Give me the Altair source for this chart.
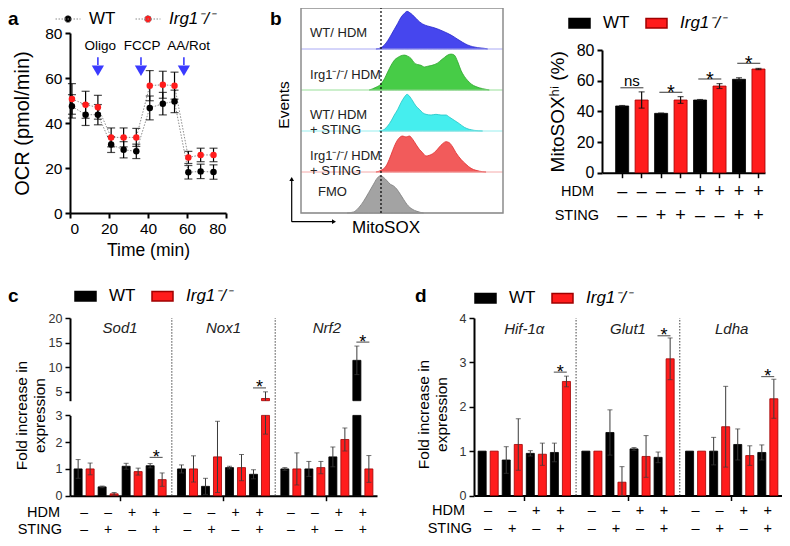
import altair as alt
import pandas as pd

FONT = "Liberation Sans"
WT = "WT"
KO = "Irg1⁻/⁻"
RED = "#ff1c1c"
RED_EDGE = "#a00000"
BLUE = "#3a3aff"
GENO_SCALE = alt.Scale(domain=[WT, KO], range=["#000000", RED])
EDGE_SCALE = alt.Scale(domain=[WT, KO], range=["#000000", RED_EDGE])
ITALIC_KO = {"expr": "datum.value == 'WT' ? 'normal' : 'italic'"}
RECT = "M-1,-0.45H1V0.45H-1Z"
DOT_LINE = "M-1,0H1M0.28,0A0.28,0.28 0 1 1 -0.28,0A0.28,0.28 0 1 1 0.28,0Z"
W, H = 774, 530

# ---------------- panel a : OCR time course ----------------
a_time = [1.0, 8.0, 14.3, 21.1, 27.5, 34.0, 40.9, 47.6, 53.6, 60.7, 67.0, 73.6]
a_wt = [47.4, 43.7, 43.7, 30.4, 28.1, 27.4, 46.7, 48.6, 49.6, 18.1, 18.5, 18.2]
a_wt_err = [5.2, 4.8, 4.5, 3.5, 3.6, 3.2, 5.3, 5.0, 5.0, 3.0, 3.2, 3.2]
a_ko = [50.7, 48.1, 47.0, 33.6, 33.6, 33.6, 56.6, 57.0, 56.6, 24.7, 25.8, 25.8]
a_ko_err = [6.8, 6.0, 5.3, 4.2, 4.2, 4.0, 6.7, 6.0, 6.0, 2.7, 3.0, 3.0]
inj_names = ["Oligo", "FCCP", "AA/Rot"]
inj_time = [14.3, 36.4, 58.4]
inj_label_time = [15.5, 37.0, 60.8]

# ---------------- panel b : histograms ----------------
hist_labels = ["WT/ HDM", "Irg1⁻/⁻/ HDM", "WT/ HDM\n+ STING", "Irg1⁻/⁻/ HDM\n+ STING", "FMO"]
hist_x_wt = [37.1, 39.6, 41.3, 42.9, 44.6, 46.2, 47.9, 49.5, 51.2, 52.5, 53.6, 55.3, 56.9, 58.6,
             60.2, 62.7, 65.2, 67.7, 70.1, 72.6, 75.1, 77.6, 80.0, 82.5, 85.0, 87.5, 90.8, 92.4]
hist_h_wt = [0, 3.3, 9.8, 20.3, 34.1, 48.0, 62.6, 77.2, 87.0, 91.9, 89.4, 82.9, 74.8, 66.7,
             61.0, 56.1, 52.8, 48.8, 43.9, 38.2, 31.7, 23.6, 16.3, 9.8, 5.7, 3.3, 1.6, 0]
hist_x_ko = [33.8, 37.1, 39.6, 41.3, 42.9, 44.6, 46.2, 47.9, 49.5, 51.2, 52.8, 54.5, 56.1, 57.8,
             59.4, 61.1, 62.7, 64.4, 66.0, 67.7, 69.3, 71.0, 72.6, 74.3, 75.9, 77.6, 79.2, 80.9,
             82.5, 84.2, 86.6, 89.9, 93.2]
hist_h_ko = [0, 6.6, 14.9, 27.3, 43.8, 60.3, 72.7, 79.3, 83.5, 85.1, 82.6, 76.9, 66.1, 62.0,
             60.3, 56.2, 57.9, 59.5, 62.0, 66.1, 72.7, 79.3, 85.1, 87.6, 85.1, 68.6, 47.9, 33.1,
             23.1, 14.9, 8.3, 3.3, 0]
hist_x_wt_st = [38.8, 41.3, 42.9, 44.6, 46.2, 47.9, 49.5, 51.2, 52.5, 53.6, 55.3, 56.9, 58.6,
                60.2, 61.9, 64.4, 66.8, 69.3, 71.8, 73.4, 75.9, 78.4, 80.9, 83.3, 85.8, 89.9]
hist_h_wt_st = [0, 4.1, 12.2, 24.4, 39.0, 52.8, 69.1, 82.9, 89.4, 85.4, 73.2, 61.0, 52.8,
                44.7, 40.7, 39.0, 40.7, 39.0, 39.0, 34.1, 26.0, 17.9, 8.9, 4.1, 1.6, 0]
hist_x_ko_st = [37.1, 39.6, 42.1, 43.7, 45.4, 47.0, 48.7, 50.3, 52.0, 53.6, 55.3, 56.9, 58.6,
                60.2, 61.9, 63.5, 65.2, 66.8, 68.5, 70.1, 71.8, 73.4, 75.1, 76.7, 79.2, 81.7,
                84.2, 86.6, 89.9, 91.6]
hist_h_ko_st = [0, 4.1, 14.6, 30.9, 52.8, 71.5, 83.7, 87.8, 85.4, 87.8, 79.7, 67.5, 55.3,
                47.2, 39.0, 40.7, 44.7, 51.2, 61.0, 69.1, 74.0, 71.5, 61.0, 47.2, 30.9, 18.7,
                8.9, 4.1, 0.8, 0]
hist_x_fmo = [22.8, 26.0, 28.5, 31.0, 33.5, 35.9, 37.6, 39.3, 40.9, 42.6, 44.2, 45.8, 47.5,
              49.2, 50.8, 52.5, 54.9, 57.4, 60.7]
hist_h_fmo = [0, 2.5, 12.4, 28.9, 49.6, 70.2, 84.3, 90.9, 86.8, 78.5, 70.2, 66.1, 57.9,
              45.5, 33.1, 20.7, 9.9, 4.1, 0]
hist_label_x = [4.5, 4.5, 4.5, 4.5, 8.4]
hist_label_h = [39, 37, 40, 39, 52]
gate_x = 39.6

# ---------------- panel b : MitoSOX-hi bars ----------------
bb_bars = ["b1", "b2", "b3", "b4", "b5", "b6", "b7", "b8"]
bb_geno = [WT, KO, WT, KO, WT, KO, WT, KO]
bb_val = [43.5, 47.4, 38.7, 47.4, 47.4, 56.5, 60.9, 67.6]
bb_err = [0.3, 5.3, 0.2, 2.2, 0.3, 1.6, 1.0, 0.4]
bb_hdm = ["–", "–", "–", "–", "+", "+", "+", "+"]
bb_sting = ["–", "–", "+", "+", "–", "–", "+", "+"]
bb_sig_bar = ["b1", "b3", "b5", "b7"]
bb_sig_y = [55.4, 52.4, 61.1, 71.3]
bb_sig_txt = ["ns", "*", "*", "*"]

# ---------------- panels c, d : qPCR ----------------
CONDS = ["c1", "c2", "c3", "c4"]
SUBS = [f"{c}_{g}" for c in CONDS for g in ["WT", "KO"]]
HDM_SIGNS = ["–", "–", "+", "+"]
STING_SIGNS = ["–", "+", "–", "+"]

c_genes = ["Sod1", "Nox1", "Nrf2"]
c_vals = {
    "Sod1": [1.0, 1.0, 0.33, 0.07, 1.1, 0.9, 1.12, 0.6],
    "Nox1": [1.0, 1.0, 0.35, 1.45, 1.05, 1.05, 0.8, 3.65],
    "Nrf2": [1.0, 1.0, 1.0, 1.05, 1.45, 2.1, 11.4, 1.0],
}
c_errs = {
    "Sod1": [0.35, 0.22, 0.03, 0.05, 0.11, 0.13, 0.08, 0.25],
    "Nox1": [0.15, 0.49, 0.3, 1.33, 0.05, 0.49, 0.17, 1.35],
    "Nrf2": [0.05, 0.6, 0.28, 0.23, 0.37, 0.43, 2.9, 0.5],
}
c_sig_gene = ["Sod1", "Nox1", "Nrf2"]
c_sig_y = [1.43, 5.8, 15.1]

d_genes = ["Hif-1α", "Glut1", "Ldha"]
d_vals = {
    "Hif-1α": [1.0, 1.0, 0.8, 1.15, 0.95, 0.93, 0.97, 2.57],
    "Glut1": [1.0, 1.0, 1.42, 0.3, 1.05, 0.88, 0.86, 3.08],
    "Ldha": [1.0, 1.0, 1.0, 1.55, 1.15, 0.9, 0.97, 2.18],
}
d_errs = {
    "Hif-1α": [0, 0, 0.3, 0.58, 0.06, 0.25, 0.21, 0.12],
    "Glut1": [0, 0, 0.51, 0.35, 0.03, 0.47, 0.12, 0.47],
    "Ldha": [0, 0, 0.31, 0.91, 0.35, 0.22, 0.17, 0.44],
}
d_sig_gene = ["Hif-1α", "Glut1", "Ldha"]
d_sig_y = [2.78, 3.6, 2.68]


def ax(**kw):
    base = dict(grid=False, domainColor="black", domainWidth=2, tickColor="black", tickWidth=2,
                tickSize=5, labelColor="black", labelFont=FONT, titleFont=FONT, titleColor="black",
                titleFontWeight="normal", labelPadding=3)
    base.update(kw)
    return alt.Axis(**base)


def one(**cols):
    return pd.DataFrame({k: [v] for k, v in cols.items()})


def letter(ch, x, y):
    return alt.Chart(one(t=ch)).mark_text(fontSize=19, fontWeight="bold", align="left",
                                          baseline="alphabetic", font=FONT).encode(
        x=alt.value(x), y=alt.value(y), text="t:N")


def label(txt, x, y, size, align="right", **kw):
    return alt.Chart(one(t=txt)).mark_text(fontSize=size, align=align, baseline="middle",
                                           font=FONT, **kw).encode(
        x=alt.value(x), y=alt.value(y), text="t:N")


def rect_legend(x, y):
    return alt.Legend(title=None, orient="none", legendX=x, legendY=y, direction="horizontal",
                      symbolType=RECT, symbolSize=441, labelFontSize=17, labelFont=FONT,
                      labelOffset=12, columnPadding=13, labelFontStyle=ITALIC_KO, padding=0,
                      symbolOpacity=1)


# ====================== panel a ======================
rows = []
for g, vals, errs in [(WT, a_wt, a_wt_err), (KO, a_ko, a_ko_err)]:
    for t, v, e in zip(a_time, vals, errs):
        rows.append(dict(time=t, geno=g, val=v, lo=v - e, hi=v + e))
df_a = pd.DataFrame(rows)
df_inj = pd.DataFrame({"name": inj_names, "t": inj_time, "lt": inj_label_time})

xa_scale = alt.Scale(domain=[0, 80], nice=False, range=[62, 218])
ya_scale = alt.Scale(domain=[0, 80], nice=False, range=[205, 25])
xa_axis = ax(values=[0, 20, 40, 60, 80], title="Time (min)", labelFontSize=15.5,
             titleFontSize=17.5, titlePadding=5, orient="bottom", offset=205 - H)
ya_axis = ax(values=[0, 20, 40, 60, 80], title="OCR (pmol/min)", labelFontSize=15.5,
             titleFontSize=20, titlePadding=12, orient="left", offset=-62)


def XA(f):
    return alt.X(f, scale=xa_scale, axis=xa_axis)


def YA(f):
    return alt.Y(f, scale=ya_scale, axis=ya_axis)


legend_a = alt.Legend(title=None, orient="none", legendX=47, legendY=-2, direction="horizontal",
                      symbolType=DOT_LINE, symbolSize=625, symbolStrokeColor="#8c8c8c",
                      symbolStrokeWidth=1, symbolDash=[1.5, 1.5], labelFontSize=17,
                      labelFont=FONT, labelOffset=8, columnPadding=17,
                      labelFontStyle=ITALIC_KO, padding=0, symbolOpacity=1)

base_a = alt.Chart(df_a)
pa = alt.layer(
    base_a.mark_line(color="#8c8c8c", strokeDash=[1.5, 1.5], strokeWidth=1).encode(
        x=XA("time:Q"), y=YA("val:Q"), detail="geno:N"),
    base_a.mark_rule(color="black", strokeWidth=1.2).encode(
        x=XA("time:Q"), y=YA("lo:Q"), y2="hi:Q"),
    base_a.transform_fold(["lo", "hi"], as_=["k", "v"]).mark_tick(
        orient="horizontal", size=8, thickness=1.2, color="black").encode(
        x=XA("time:Q"), y=YA("v:Q")),
    base_a.mark_circle(size=42, opacity=1).encode(
        x=XA("time:Q"), y=YA("val:Q"),
        color=alt.Color("geno:N", scale=GENO_SCALE, legend=legend_a)),
    alt.Chart(df_inj).mark_rule(color=BLUE, strokeWidth=1.6).encode(
        x=XA("t:Q"), y=alt.datum(69.2), y2=alt.datum(65.8)),
    alt.Chart(df_inj).mark_point(shape="triangle-down", filled=True, size=150, color=BLUE,
                                 opacity=1).encode(x=XA("t:Q"), y=alt.datum(63.2)),
    alt.Chart(df_inj).mark_text(fontSize=13.5, font=FONT).encode(
        x=XA("lt:Q"), y=alt.datum(74.3), text="name:N"),
)

# ====================== panel b : histograms ======================
hist_xs = [hist_x_wt, hist_x_ko, hist_x_wt_st, hist_x_ko_st, hist_x_fmo]
hist_hs = [hist_h_wt, hist_h_ko, hist_h_wt_st, hist_h_ko_st, hist_h_fmo]
hist_fill = ["#4646ee", "#47cc47", "#45eeee", "#f25b5b", "#a3a3a3"]
hist_edge = ["#2a2acc", "#2ea62e", "#22c4c4", "#e03030", "#7a7a7a"]
hist_base = ["#aaaaf5", "#99e099", "#99eeee", "#f5aaaa", "#cccccc"]
ROW = 41
xh_scale = alt.Scale(domain=[0, 100], nice=False, range=[293, 495])


def XH(f):
    return alt.X(f, scale=xh_scale, axis=None)


def hist_row(i):
    ysc = alt.Scale(domain=[0, 100], nice=False, range=[ROW * (i + 1), ROW * i])
    df = pd.DataFrame({"x": hist_xs[i], "h": hist_hs[i]})
    area = alt.Chart(df).mark_area(fill=hist_fill[i], stroke=hist_edge[i], strokeWidth=0.8,
                                   fillOpacity=1, interpolate="monotone").encode(
        x=XH("x:Q"), y=alt.Y("h:Q", scale=ysc, axis=None))
    base = alt.Chart(one(x0=0, x1=100, b=0)).mark_rule(color=hist_base[i], strokeWidth=1).encode(
        x=XH("x0:Q"), x2="x1:Q", y=alt.Y("b:Q", scale=ysc, axis=None))
    txt = alt.Chart(one(lbl=hist_labels[i], lx=hist_label_x[i], ly=hist_label_h[i])).mark_text(
        align="left", baseline="middle", fontSize=13, font=FONT, lineBreak="\n",
        color="#222222").encode(
        x=XH("lx:Q"), y=alt.Y("ly:Q", scale=ysc, axis=None), text="lbl:N")
    return alt.layer(area, base, txt)


box_y = alt.Scale(domain=[0, 1], nice=False, range=[205, 0])
hist_frame = alt.layer(
    alt.Chart(one(x0=0, x1=100, y0=0, y1=1)).mark_rect(
        fillOpacity=0, stroke="#8c8c8c", strokeWidth=1.5).encode(
        x=XH("x0:Q"), x2="x1:Q", y=alt.Y("y0:Q", scale=box_y, axis=None), y2="y1:Q"),
    alt.Chart(one(g=gate_x, y0=0, y1=1)).mark_rule(
        strokeDash=[2, 2], color="black", strokeWidth=1.2).encode(
        x=XH("g:Q"), y=alt.Y("y0:Q", scale=box_y, axis=None), y2="y1:Q"),
)

pb_hist = alt.layer(
    *[hist_row(i) for i in range(5)], hist_frame,
).resolve_scale(y="independent")

hist_deco = alt.layer(
    alt.Chart(one(k=0)).mark_rule(color="black", strokeWidth=1.2).encode(
        x=alt.value(283.7), y=alt.value(213.7), y2=alt.value(172)),
    alt.Chart(one(k=0)).mark_rule(color="black", strokeWidth=1.2).encode(
        x=alt.value(283.7), x2=alt.value(325), y=alt.value(213.7)),
    alt.Chart(one(k=0)).mark_point(shape="triangle-up", filled=True, size=22, color="black",
                                   opacity=1).encode(x=alt.value(283.7), y=alt.value(171)),
    alt.Chart(one(k=0)).mark_point(shape="triangle-right", filled=True, size=22,
                                   color="black", opacity=1).encode(
        x=alt.value(326), y=alt.value(213.7)),
    label("Events", 276, 97, 15.5, align="center", angle=270),
    label("MitoSOX", 378, 220, 17, align="center"),
)

# ====================== panel b : bars ======================
df_bb = pd.DataFrame({"bar": bb_bars, "geno": bb_geno, "val": bb_val, "err": bb_err,
                      "hdm": bb_hdm, "sting": bb_sting})
df_bb["lo"] = df_bb["val"] - df_bb["err"]
df_bb["hi"] = df_bb["val"] + df_bb["err"]
df_bb_sig = pd.DataFrame({"bar": bb_sig_bar, "y": bb_sig_y, "txt": bb_sig_txt})

xb_scale = alt.Scale(domain=bb_bars, range=[594, 757], paddingInner=0.33, paddingOuter=0.35,
                     align=1)
xb_axis = ax(labels=False, title=None, tickWidth=1.5, orient="bottom", offset=164.7 - H)
yb_scale = alt.Scale(domain=[0, 80], nice=False, range=[164.7, 42])
yb_axis = ax(values=[0, 20, 40, 60, 80], title="MitoSOXʰⁱ (%)", labelFontSize=16,
             titleFontSize=19, titlePadding=9, orient="left", offset=-594)


def XB():
    return alt.X("bar:N", sort=bb_bars, scale=xb_scale, axis=xb_axis)


def YB(f):
    return alt.Y(f, scale=yb_scale, axis=yb_axis, stack=None)


bb_step = 163 / (8 - 0.33 + 0.7)
pb_bar = alt.layer(
    alt.Chart(df_bb).mark_bar(strokeWidth=0.8).encode(
        x=XB(), y=YB("val:Q"),
        color=alt.Color("geno:N", scale=GENO_SCALE, legend=rect_legend(560, 3.5)),
        stroke=alt.Stroke("geno:N", scale=EDGE_SCALE, legend=None)),
    alt.Chart(df_bb).mark_rule(color="#111111", strokeWidth=1.2).encode(
        x=XB(), y=YB("lo:Q"), y2="hi:Q"),
    alt.Chart(df_bb).transform_fold(["lo", "hi"], as_=["k", "v"]).mark_tick(
        orient="horizontal", size=6, thickness=1.2, color="#111111").encode(x=XB(), y=YB("v:Q")),
    alt.Chart(df_bb_sig).mark_tick(orient="horizontal", size=23, thickness=1.3,
                                   color="#222222", xOffset=bb_step / 2).encode(
        x=XB(), y=YB("y:Q")),
    alt.Chart(df_bb_sig).transform_filter("datum.txt == 'ns'").mark_text(
        fontSize=15, dx=bb_step / 2, dy=-2, baseline="alphabetic", font=FONT).encode(
        x=XB(), y=YB("y:Q"), text="txt:N"),
    alt.Chart(df_bb_sig).transform_filter("datum.txt != 'ns'").mark_text(
        fontSize=20, dx=bb_step / 2, dy=7, baseline="alphabetic", font=FONT).encode(
        x=XB(), y=YB("y:Q"), text="txt:N"),
    alt.Chart(df_bb).mark_text(fontSize=18, font=FONT).encode(
        x=XB(), y=alt.value(184), text="hdm:N"),
    alt.Chart(df_bb).mark_text(fontSize=18, font=FONT).encode(
        x=XB(), y=alt.value(208), text="sting:N"),
)


# ====================== panels c and d helpers ======================
def expr_frame(genes, vals, errs):
    out = []
    for g in genes:
        for k, (v, e) in enumerate(zip(vals[g], errs[g])):
            gt = "WT" if k % 2 == 0 else "KO"
            out.append(dict(gene=g, sub=f"{CONDS[k // 2]}_{gt}", geno=WT if gt == "WT" else KO,
                            val=v, err=e, lo=max(v - e, 0), hi=v + e))
    return pd.DataFrame(out)


def sign_frame(genes):
    out = []
    for g in genes:
        for k, c in enumerate(CONDS):
            out.append(dict(gene=g, sub=f"{c}_WT", hdm=HDM_SIGNS[k], sting=STING_SIGNS[k]))
    return pd.DataFrame(out)


def XOFF():
    return alt.XOffset("sub:N", sort=SUBS,
                       scale=alt.Scale(domain=SUBS, paddingInner=0.33, paddingOuter=0.17))


ERR_C = "#3a3a3a"
PAIR_DX = 6.0      # half a bar step: centre of a WT/KO pair
SIG_DX = 36.0      # from the gene centre to the centre of the last (HDM+STING) pair

# ====================== panel c ======================
df_c = expr_frame(c_genes, c_vals, c_errs)
df_c_sign = sign_frame(c_genes)
df_c_sig = pd.DataFrame({"gene": c_sig_gene, "y": c_sig_y, "txt": ["*"] * 3})
df_c_lbl = pd.DataFrame({"gene": c_genes, "y": [18.0] * 3})

c_xscale = alt.Scale(domain=c_genes, range=[62, 369], paddingInner=0.07, paddingOuter=0.02)
c_xaxis = ax(labels=False, title=None, tickWidth=1.5, orient="bottom", offset=487.7 - H)


def XC(**kw):
    return alt.X("gene:N", sort=c_genes, scale=c_xscale, axis=c_xaxis, **kw)


c_lo_scale = alt.Scale(domain=[0, 3], nice=False, range=[487.7, 407.4], clamp=True)
c_lo_axis = ax(values=[0, 1, 2, 3], title=["Fold increase in", "expression"], orient="left",
               offset=-62, labelFontSize=12.5, labelColor="#333333", titleFontSize=15.5,
               titleLineHeight=18, titlePadding=8, titleY=407, tickWidth=1.5)
c_hi_scale = alt.Scale(domain=[3.2, 20], nice=False, range=[392.7, 310], clamp=True)
c_hi_axis = ax(values=[5, 10, 15, 20], title=None, orient="left", offset=-62, labelFontSize=12.5,
               labelColor="#333333", tickWidth=1.5)


def YCL(f):
    return alt.Y(f, scale=c_lo_scale, axis=c_lo_axis, stack=None)


def YCH(f):
    return alt.Y(f, scale=c_hi_scale, axis=c_hi_axis, stack=None)


leg_c = rect_legend(66, 276.5)
c_color = alt.Color("geno:N", scale=GENO_SCALE, legend=leg_c)
c_stroke = alt.Stroke("geno:N", scale=EDGE_SCALE, legend=None)

c_hi = alt.layer(
    alt.Chart(df_c).transform_filter("datum.val > 3.2").mark_bar(strokeWidth=0.8).encode(
        x=XC(), xOffset=XOFF(), y=YCH("val:Q"), color=c_color, stroke=c_stroke),
    alt.Chart(df_c).transform_filter("datum.hi > 3.2").mark_rule(color=ERR_C, strokeWidth=1).encode(
        x=XC(), xOffset=XOFF(), y=YCH("lo:Q"), y2="hi:Q"),
    alt.Chart(df_c).transform_filter("datum.err > 0").transform_fold(["lo", "hi"], as_=["k", "v"])
    .transform_filter("datum.v >= 3.2").mark_tick(orient="horizontal", size=5, thickness=1,
                                                  color=ERR_C).encode(
        x=XC(), xOffset=XOFF(), y=YCH("v:Q")),
    alt.Chart(df_c_sig).transform_filter("datum.y > 3.2").mark_tick(
        orient="horizontal", size=13, thickness=1.2, color="#222222", xOffset=SIG_DX).encode(
        x=XC(), y=YCH("y:Q")),
    alt.Chart(df_c_sig).transform_filter("datum.y > 3.2").mark_text(
        fontSize=18, dx=SIG_DX, dy=5.5, baseline="alphabetic", font=FONT).encode(
        x=XC(), y=YCH("y:Q"), text="txt:N"),
    alt.Chart(df_c_lbl).mark_text(fontSize=15, fontStyle="italic", font=FONT,
                                  color="#222222").encode(
        x=XC(), y=YCH("y:Q"), text="gene:N"),
)

c_lo = alt.layer(
    alt.Chart(df_c).mark_bar(strokeWidth=0.8).encode(
        x=XC(), xOffset=XOFF(), y=YCL("val:Q"), color=c_color, stroke=c_stroke),
    alt.Chart(df_c).transform_filter("datum.err > 0").mark_rule(color=ERR_C, strokeWidth=1).encode(
        x=XC(), xOffset=XOFF(), y=YCL("lo:Q"), y2="hi:Q"),
    alt.Chart(df_c).transform_filter("datum.err > 0").transform_fold(["lo", "hi"], as_=["k", "v"])
    .transform_filter("datum.v <= 3").mark_tick(orient="horizontal", size=5, thickness=1,
                                                color=ERR_C).encode(
        x=XC(), xOffset=XOFF(), y=YCL("v:Q")),
    alt.Chart(df_c_sig).transform_filter("datum.y <= 3").mark_tick(
        orient="horizontal", size=13, thickness=1.2, color="#222222", xOffset=SIG_DX).encode(
        x=XC(), y=YCL("y:Q")),
    alt.Chart(df_c_sig).transform_filter("datum.y <= 3").mark_text(
        fontSize=18, dx=SIG_DX, dy=5.5, baseline="alphabetic", font=FONT).encode(
        x=XC(), y=YCL("y:Q"), text="txt:N"),
    alt.Chart(df_c_sign).mark_text(fontSize=14, dx=PAIR_DX, font=FONT).encode(
        x=XC(), xOffset=XOFF(), y=alt.value(504.5), text="hdm:N"),
    alt.Chart(df_c_sign).mark_text(fontSize=14, dx=PAIR_DX, font=FONT).encode(
        x=XC(), xOffset=XOFF(), y=alt.value(521.5), text="sting:N"),
)

c_sep_y = alt.Scale(domain=[0, 1], nice=False, range=[487.7, 310])
c_sep = alt.Chart(pd.DataFrame({"gene": c_genes[1:], "y0": [0, 0], "y1": [1, 1]})).mark_rule(
    strokeDash=[1.5, 1.5], color="#444444", strokeWidth=1, xOffset=-3.6).encode(
    x=XC(bandPosition=0), y=alt.Y("y0:Q", scale=c_sep_y, axis=None), y2="y1:Q")

pc = alt.layer(c_hi, c_lo, c_sep).resolve_scale(y="independent")

# ====================== panel d ======================
df_d = expr_frame(d_genes, d_vals, d_errs)
df_d_sign = sign_frame(d_genes)
df_d_sig = pd.DataFrame({"gene": d_sig_gene, "y": d_sig_y, "txt": ["*"] * 3})
df_d_lbl = pd.DataFrame({"gene": d_genes, "y": [3.76] * 3})

d_xscale = alt.Scale(domain=d_genes, range=[466, 774], paddingInner=0.07, paddingOuter=0.02)
d_xaxis = ax(labels=False, title=None, tickWidth=1.5, orient="bottom", offset=487.5 - H)
d_yscale = alt.Scale(domain=[0, 4], nice=False, range=[487.5, 310])
d_yaxis = ax(values=[0, 1, 2, 3, 4], title=["Fold increase in", "expression"], orient="left",
             offset=-466, labelFontSize=12.5, labelColor="#333333", titleFontSize=15.5,
             titleLineHeight=18, titlePadding=10, titleY=406, tickWidth=1.5)


def XD(**kw):
    return alt.X("gene:N", sort=d_genes, scale=d_xscale, axis=d_xaxis, **kw)


def YD(f):
    return alt.Y(f, scale=d_yscale, axis=d_yaxis, stack=None)


pd_ = alt.layer(
    alt.Chart(df_d).mark_bar(strokeWidth=0.8).encode(
        x=XD(), xOffset=XOFF(), y=YD("val:Q"),
        color=alt.Color("geno:N", scale=GENO_SCALE, legend=rect_legend(466, 278.5)),
        stroke=alt.Stroke("geno:N", scale=EDGE_SCALE, legend=None)),
    alt.Chart(df_d).transform_filter("datum.err > 0").mark_rule(color=ERR_C, strokeWidth=1).encode(
        x=XD(), xOffset=XOFF(), y=YD("lo:Q"), y2="hi:Q"),
    alt.Chart(df_d).transform_filter("datum.err > 0").transform_fold(["lo", "hi"], as_=["k", "v"])
    .mark_tick(orient="horizontal", size=5, thickness=1, color=ERR_C).encode(
        x=XD(), xOffset=XOFF(), y=YD("v:Q")),
    alt.Chart(df_d_sig).mark_tick(orient="horizontal", size=13, thickness=1.2,
                                  color="#222222", xOffset=SIG_DX).encode(
        x=XD(), y=YD("y:Q")),
    alt.Chart(df_d_sig).mark_text(fontSize=18, dx=SIG_DX, dy=5.5, baseline="alphabetic",
                                  font=FONT).encode(
        x=XD(), y=YD("y:Q"), text="txt:N"),
    alt.Chart(df_d_lbl).mark_text(fontSize=15, fontStyle="italic", font=FONT,
                                  color="#222222").encode(
        x=XD(), y=YD("y:Q"), text="gene:N"),
    alt.Chart(pd.DataFrame({"gene": d_genes[1:], "y0": [0, 0], "y1": [4, 4]})).mark_rule(
        strokeDash=[1.5, 1.5], color="#444444", strokeWidth=1, xOffset=-3.7).encode(
        x=XD(bandPosition=0), y=YD("y0:Q"), y2="y1:Q"),
    alt.Chart(df_d_sign).mark_text(fontSize=14.5, dx=PAIR_DX, font=FONT).encode(
        x=XD(), xOffset=XOFF(), y=alt.value(503), text="hdm:N"),
    alt.Chart(df_d_sign).mark_text(fontSize=14.5, dx=PAIR_DX, font=FONT).encode(
        x=XD(), xOffset=XOFF(), y=alt.value(521), text="sting:N"),
)

# ====================== free text: panel letters, row labels ======================
texts = alt.layer(
    letter("a", 0, 17), letter("b", 262, 17), letter("c", 0, 294), letter("d", 407, 294),
    label("HDM", 586, 184, 14.5), label("STING", 591, 208, 14.5),
    label("HDM", 52, 504.5, 14.5), label("STING", 54, 521.5, 14.5),
    label("HDM", 457, 503, 14.5), label("STING", 464, 521, 14.5),
)

chart = alt.layer(
    pa, pb_hist, hist_deco, pb_bar, pc, pd_, texts
).resolve_scale(
    x="independent", y="independent", xOffset="independent", color="independent",
    stroke="independent"
).properties(
    width=W, height=H, padding=0, autosize=alt.AutoSizeParams(type="none")
).configure(font=FONT).configure_view(stroke=None)

chart.save("out.html", embed_options={"renderer": "svg", "actions": False})
